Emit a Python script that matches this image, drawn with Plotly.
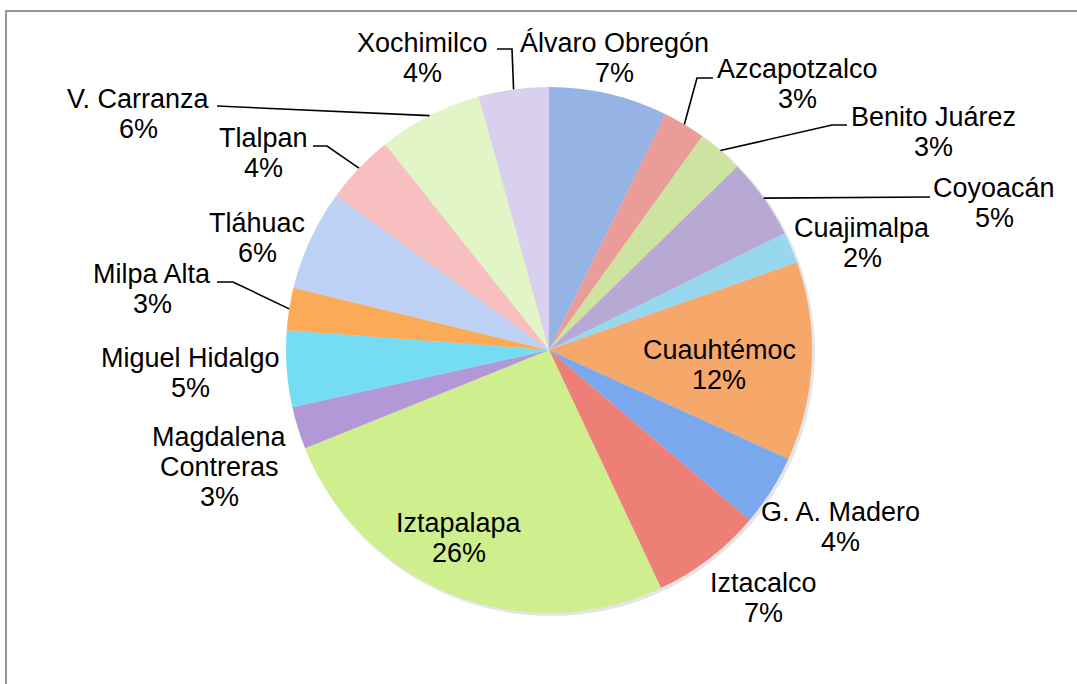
import math
import plotly.graph_objects as go

# ---- data ----
delegaciones = ["Álvaro Obregón", "Azcapotzalco", "Benito Juárez", "Coyoacán", "Cuajimalpa",
                "Cuauhtémoc", "G. A. Madero", "Iztacalco", "Iztapalapa", "Magdalena Contreras",
                "Miguel Hidalgo", "Milpa Alta", "Tláhuac", "Tlalpan", "V. Carranza", "Xochimilco"]
valores = [7.3, 2.6, 2.8, 5.0, 1.9, 12.2, 4.4, 6.8, 25.9, 2.6, 4.7, 2.6, 6.2, 4.3, 6.4, 4.3]
colores = ["#95b3e5", "#ea9d98", "#cce4a0", "#b8a8d4", "#98d8ef", "#f6a76a", "#79a9ec", "#ee7f77",
           "#cfee8e", "#b298d6", "#74dcf4", "#fbab58", "#bcd1f4", "#f7bfbf", "#e2f5c6", "#d9cfee"]

# ---- layout (page pixels; body margin removed so figure starts at 0,0) ----
OFF = 0
W, H = 1077, 684
ML, MR, MT, MB = 21, 0, 87, 71
PW, PH = W - ML - MR, H - MT - MB
CX, CY = OFF + ML + PW / 2, OFF + MT + PH / 2
R = min(PW, PH) / 2
FONT = "Liberation Sans, Arial, Helvetica, sans-serif"
FS = 27
GAP = 30

# label anchor: (center x, first line center y) in page pixels
label_pos = {
    "Álvaro Obregón": (614, 43), "Azcapotzalco": (797, 69), "Benito Juárez": (933, 117),
    "Coyoacán": (994, 188), "Cuajimalpa": (862, 228), "Cuauhtémoc": (719, 350),
    "G. A. Madero": (840, 512), "Iztacalco": (763, 583), "Iztapalapa": (459, 523),
    "Magdalena Contreras": (219, 437), "Miguel Hidalgo": (190, 358), "Milpa Alta": (152, 274),
    "Tláhuac": (257, 223), "Tlalpan": (263, 138), "V. Carranza": (138, 99), "Xochimilco": (422, 43),
}
wrap = {"Magdalena Contreras": ["Magdalena", "Contreras"]}
# leader lines: points from label side; slice edge point appended from data
leaders = {
    "Xochimilco": [(497, 49), (512, 49)],
    "Azcapotzalco": [(713, 78), (697, 78)],
    "Benito Juárez": [(847, 125), (832, 125)],
    "Coyoacán": [(930, 197)],
    "V. Carranza": [(217, 106)],
    "Tlalpan": [(313, 146), (327, 146)],
    "Milpa Alta": [(217, 282), (233, 282)],
}


def px(x):
    return (x - OFF - ML) / PW


def py(y):
    return (OFF + MT + PH - y) / PH


fig = go.Figure(go.Pie(
    labels=delegaciones, values=valores, sort=False, direction="clockwise", rotation=0,
    marker=dict(colors=colores, line=dict(width=0)), textinfo="none", hoverinfo="label+percent",
    showlegend=False, domain=dict(x=[0, 1], y=[0, 1]),
))

total = sum(valores)
annotations = []
shapes = []
cum = 0.0
for name, v in zip(delegaciones, valores):
    mid = (cum + v / 2) / total * 2 * math.pi
    cum += v
    ex, ey = CX + R * math.sin(mid), CY - R * math.cos(mid)
    lines = wrap.get(name, [name]) + [f"{round(v / total * 100)}%"]
    lx, ly = label_pos[name]
    for i, t in enumerate(lines):
        annotations.append(dict(x=px(lx), y=py(ly + i * GAP), xref="paper", yref="paper",
                                text=t, showarrow=False, xanchor="center", yanchor="middle",
                                font=dict(family=FONT, size=FS, color="#000000")))
    if name in leaders:
        pts = leaders[name] + [(ex, ey)]
        path = "M " + " L ".join(f"{px(a):.5f},{py(b):.5f}" for a, b in pts)
        shapes.append(dict(type="path", path=path, xref="paper", yref="paper",
                           line=dict(color="#000000", width=1.6)))

# soft shadow behind pie
shapes.append(dict(type="circle", xref="paper", yref="paper", xsizemode="pixel", ysizemode="pixel",
                   xanchor=0.5, yanchor=0.5, x0=-R + 1, x1=R + 3, y0=-R - 3, y1=R - 1,
                   fillcolor="rgba(0,0,0,0.10)", line=dict(width=0), layer="below"))
# chart border (open to the right and bottom, as in the cropped original)
border = "M {:.5f},{:.5f} L {:.5f},{:.5f} L {:.5f},{:.5f}".format(
    px(6), py(H + 4), px(6), py(11), px(W + 4), py(11))
shapes.append(dict(type="path", path=border, xref="paper", yref="paper",
                   line=dict(color="#979797", width=2)))

fig.update_layout(
    width=W, height=H, margin=dict(l=ML, r=MR, t=MT, b=MB),
    paper_bgcolor="white", plot_bgcolor="white",
    annotations=annotations, shapes=shapes,
)
fig.write_html("out.html", config={"displayModeBar": False},
               post_script="document.body.style.margin='0';document.body.style.overflow='hidden';")
